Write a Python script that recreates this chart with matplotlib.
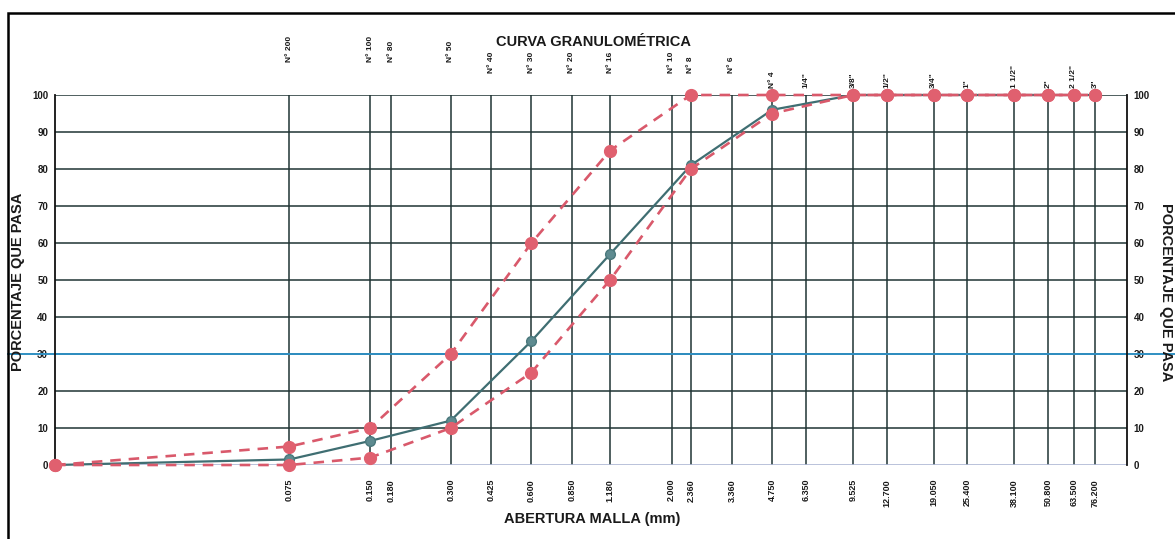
import matplotlib
matplotlib.use("Agg")
import matplotlib.pyplot as plt
from matplotlib.patches import Rectangle

# aberturas (mm) donde se grafican los porcentajes que pasan
aberturas = [0.01, 0.075, 0.150, 0.300, 0.600, 1.180, 2.360, 4.750, 9.525,
             12.700, 19.050, 25.400, 38.100, 50.800, 63.500, 76.200]
muestra = [0, 1.5, 6.5, 12, 33.5, 57, 81, 96, 100,
           100, 100, 100, 100, 100, 100, 100]
lim_sup = [0, 5, 10, 30, 60, 85, 100, 100, 100,
           100, 100, 100, 100, 100, 100, 100]
lim_inf = [0, 0, 2, 10, 25, 50, 80, 95, 100,
           100, 100, 100, 100, 100, 100, 100]

# mallas de la cuadricula
mallas = [0.075, 0.150, 0.180, 0.300, 0.425, 0.600, 0.850, 1.180, 2.000,
          2.360, 3.360, 4.750, 6.350, 9.525, 12.700, 19.050, 25.400,
          38.100, 50.800, 63.500, 76.200]
tamices = ["N° 200", "N° 100", "N° 80", "N° 50", "N° 40", "N° 30", "N° 20",
           "N° 16", "N° 10", "N° 8", "N° 6", "N° 4", '1/4"', '3/8"', '1/2"',
           '3/4"', '1"', '1 1/2"', '2"', '2 1/2"', '3"']
porcentajes = list(range(0, 101, 10))

plt.rcParams['font.family'] = ['Liberation Sans', 'DejaVu Sans']

W, H = 1175, 539
fig = plt.figure(figsize=(W / 100, H / 100), dpi=100)
fig.patch.set_facecolor('white')

# marco exterior
fig.patches.append(Rectangle((8 / W, -0.2), 1.2, 1.2 - 13 / H,
                             transform=fig.transFigure, fill=False,
                             edgecolor='black', linewidth=1.8, zorder=10))

ax = fig.add_axes([55 / W, (H - 465) / H, (1126.7 - 55) / W, 370 / H])
ax.set_facecolor('none')
ax.set_xscale('log')
ax.set_xlim(0.01, 100)
ax.set_ylim(0, 100)

grid_c = '#1f3434'
for m in mallas:
    ax.axvline(m, color=grid_c, lw=1.1, zorder=1)
for p in porcentajes[1:]:
    ax.axhline(p, color=grid_c, lw=1.1, zorder=1)
ax.axhline(0, color='#aeb8d4', lw=1.2, zorder=1)

# linea de referencia al 30 %
ax.axhline(30, xmin=(8 - 55) / 1071.7, xmax=(W - 55) / 1071.7,
           color='#2f8fc2', lw=1.4, clip_on=False, zorder=2)

for s in ['top', 'bottom']:
    ax.spines[s].set_visible(False)
for s in ['left', 'right']:
    ax.spines[s].set_color('#111111')
    ax.spines[s].set_linewidth(1.3)

# curvas
ax.plot(aberturas, muestra, color='#3f6e72', lw=1.6, marker='o', ms=7,
        mfc='#5e8b90', mec='#4a787c', zorder=4, clip_on=False)
red = '#d9596b'
ax.plot(aberturas, lim_sup, color=red, lw=1.9, ls=(0, (4, 3)), marker='o',
        ms=8.5, mfc='#e0606f', mec='#e0606f', zorder=5, clip_on=False)
ax.plot(aberturas, lim_inf, color=red, lw=1.9, ls=(0, (4, 3)), marker='o',
        ms=8.5, mfc='#e0606f', mec='#e0606f', zorder=5, clip_on=False)

# ejes
ax.minorticks_off()
ax.set_xticks(mallas)
ax.set_xticklabels([f"{m:.3f}" for m in mallas], rotation=90,
                   fontsize=6.5, fontweight='bold', color='#1a1a1a')
ax.tick_params(axis='x', length=0, pad=10)
ax.set_yticks(porcentajes)
ax.set_yticklabels([str(p) for p in porcentajes], fontsize=7,
                   fontweight='bold', color='#1a1a1a')
ax.tick_params(axis='y', length=0, pad=5, labelright=True)

# nombres de tamices arriba
tx = ax.get_xaxis_transform()
for m, t in zip(mallas, tamices):
    if m < 0.4:
        yb = (465 - 62) / 370
    elif m < 4.0:
        yb = (465 - 73) / 370
    else:
        yb = (465 - 88) / 370
    ax.text(m, yb, t, rotation=90, ha='center', va='bottom', transform=tx,
            fontsize=6, fontweight='bold', color='#1a1a1a')

fig.text(594 / W, 1 - 42 / H, "CURVA GRANULOMÉTRICA", ha='center',
         va='center', fontsize=10.5, fontweight='bold', color='#1a1a1a')
fig.text(592 / W, 1 - 519 / H, "ABERTURA MALLA (mm)", ha='center',
         va='center', fontsize=10.5, fontweight='bold', color='#1a1a1a')
fig.text(18 / W, 1 - 282 / H, "PORCENTAJE QUE PASA", rotation=90,
         ha='center', va='center', fontsize=10.5, fontweight='bold',
         color='#1a1a1a')
fig.text(1166 / W, 1 - 292 / H, "PORCENTAJE QUE PASA", rotation=270,
         ha='center', va='center', fontsize=10.5, fontweight='bold',
         color='#1a1a1a')

fig.savefig("out.png", dpi=100)
